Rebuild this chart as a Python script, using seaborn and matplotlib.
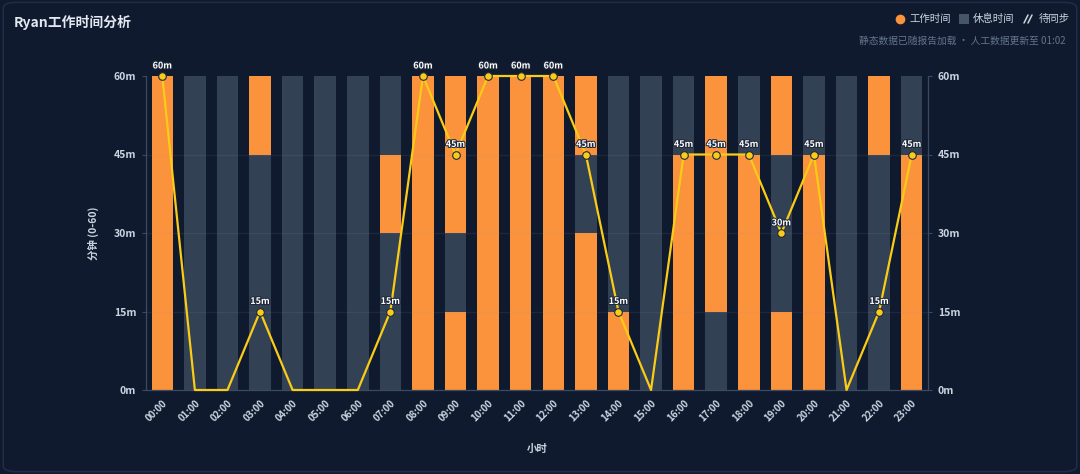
import numpy as np
import pandas as pd
import seaborn as sns
import matplotlib.pyplot as plt
import matplotlib.patheffects as pe
from matplotlib.patches import FancyBboxPatch
from matplotlib.lines import Line2D

# hours and 15-minute quarters (1 = work, 0 = rest), bottom quarter first
hours = [f"{h:02d}:00" for h in range(24)]
q1 = [1, 0, 0, 0, 0, 0, 0, 0, 1, 1, 1, 1, 1, 1, 1, 0, 1, 0, 1, 1, 1, 0, 0, 1]  # 0-15
q2 = [1, 0, 0, 0, 0, 0, 0, 0, 1, 0, 1, 1, 1, 1, 0, 0, 1, 1, 1, 0, 1, 0, 0, 1]  # 15-30
q3 = [1, 0, 0, 0, 0, 0, 0, 1, 1, 1, 1, 1, 1, 0, 0, 0, 1, 1, 1, 0, 1, 0, 0, 1]  # 30-45
q4 = [1, 0, 0, 1, 0, 0, 0, 0, 1, 1, 1, 1, 1, 1, 0, 0, 0, 1, 0, 1, 0, 0, 1, 0]  # 45-60
quarters = [q1, q2, q3, q4]
work_min = [15 * (a + b + c + d) for a, b, c, d in zip(q1, q2, q3, q4)]

BG = "#0f1a2e"
ORANGE = "#fb923c"
SLATE = "#334155"
YELLOW = "#facc15"
TXT = "#cbd5e1"

sns.set_theme(style="dark")
plt.rcParams["font.family"] = ["Noto Sans CJK SC", "DejaVu Sans"]
plt.rcParams["axes.unicode_minus"] = False

fig = plt.figure(figsize=(10.8, 4.74), dpi=100)
fig.patch.set_facecolor(BG)
card = FancyBboxPatch((0.003, 0.005), 0.994, 0.99, boxstyle="round,pad=0,rounding_size=0.012",
                      transform=fig.transFigure, facecolor=BG, edgecolor="#1f2c44",
                      linewidth=1.2, zorder=-10)
fig.add_artist(card)

ax = fig.add_axes([146 / 1080, 1 - 390 / 474, (928 - 146) / 1080, (390 - 76) / 474])
ax.set_facecolor(BG)
ax.patch.set_alpha(0)

palette = {"工作时间": ORANGE, "休息时间": SLATE}
# draw from the top quarter down, each layer overlays the lower part
for qi in range(3, -1, -1):
    df = pd.DataFrame({
        "hour": hours,
        "top": [15 * (qi + 1)] * 24,
        "state": ["工作时间" if v else "休息时间" for v in quarters[qi]],
    })
    sns.barplot(data=df, x="hour", y="top", hue="state", order=hours,
                hue_order=["工作时间", "休息时间"], palette=palette, dodge=False,
                width=0.66, saturation=1, errorbar=None, legend=False,
                linewidth=0, ax=ax)

for y in [15, 30, 45]:
    ax.axhline(y, color="#94a3b8", alpha=0.10, linewidth=1, zorder=3)

xpos = np.arange(24)
sns.lineplot(x=xpos, y=work_min, color=YELLOW, linewidth=1.6, ax=ax, zorder=5, clip_on=False)
nz = [i for i in range(24) if work_min[i] > 0]
sns.scatterplot(x=xpos[nz], y=[work_min[i] for i in nz], color=YELLOW, s=30,
                edgecolor="#1e293b", linewidth=0.8, ax=ax, zorder=6, clip_on=False)
for i in nz:
    ax.annotate(f"{work_min[i]}m", (i, work_min[i]), xytext=(0, 4), textcoords="offset points",
                ha="center", va="bottom", fontsize=6.5, fontweight="bold", color="white", zorder=7,
                path_effects=[pe.withStroke(linewidth=1.5, foreground="#1e293b")])

ax.set_xlim(-0.5, 23.5)
ax.set_ylim(0, 60)
ax.set_yticks([0, 15, 30, 45, 60])
ax.set_yticklabels([f"{v}m" for v in [0, 15, 30, 45, 60]])
ax.set_xticks(xpos)
ax.set_xticklabels(hours, rotation=45, ha="right", rotation_mode="anchor")
ax.tick_params(axis="y", colors=TXT, labelsize=7.5, length=3, width=0.8, pad=4,
               left=True, right=True, labelleft=True, labelright=True)
ax.tick_params(axis="x", colors=TXT, labelsize=7, length=0, pad=6)
for lab in ax.get_xticklabels() + ax.get_yticklabels():
    lab.set_fontweight("bold")
for t in ax.yaxis.get_major_ticks():
    t.label2.set_fontweight("bold")
ax.tick_params(axis="y", color="#3b4a60")
ax.grid(False)
for side in ["left", "right", "bottom"]:
    ax.spines[side].set_visible(True)
    ax.spines[side].set_color("#3b4a60")
    ax.spines[side].set_linewidth(0.9)
ax.spines["top"].set_visible(False)
ax.set_xlabel("")
ax.set_ylabel("")

fig.text(93 / 1080, 1 - 233 / 474, "分钟 (0-60)", rotation=90, ha="center", va="center",
         fontsize=7.5, color=TXT, fontweight="bold")
fig.text(537 / 1080, 1 - 449 / 474, "小时", ha="center", va="center",
         fontsize=7.5, color=TXT, fontweight="bold")

fig.text(14 / 1080, 1 - 22 / 474, "Ryan工作时间分析", ha="left", va="center",
         fontsize=10, color="#e2e8f0", fontweight="bold")

# legend
fig.add_artist(Line2D([900 / 1080], [1 - 19 / 474], transform=fig.transFigure, marker="o",
                      markersize=7, color=ORANGE, markeredgewidth=0, linestyle="none"))
fig.text(909 / 1080, 1 - 19 / 474, "工作时间", ha="left", va="center", fontsize=7.5, color=TXT)
fig.add_artist(Line2D([964 / 1080], [1 - 19 / 474], transform=fig.transFigure, marker="s",
                      markersize=6.5, color="#475569", markeredgewidth=0, linestyle="none"))
fig.text(973 / 1080, 1 - 19 / 474, "休息时间", ha="left", va="center", fontsize=7.5, color=TXT)
for dx in [0, 4]:
    fig.add_artist(Line2D([(1024 + dx) / 1080, (1028 + dx) / 1080], [1 - 23 / 474, 1 - 15 / 474],
                          transform=fig.transFigure, color=TXT, linewidth=1.1))
fig.text(1039 / 1080, 1 - 19 / 474, "待同步", ha="left", va="center", fontsize=7.5, color=TXT)
fig.text(1066 / 1080, 1 - 41 / 474, "静态数据已随报告加载 · 人工数据更新至 01:02", ha="right", va="center",
         fontsize=7, color="#64748b")

fig.savefig("out.png", dpi=100, facecolor=BG)
